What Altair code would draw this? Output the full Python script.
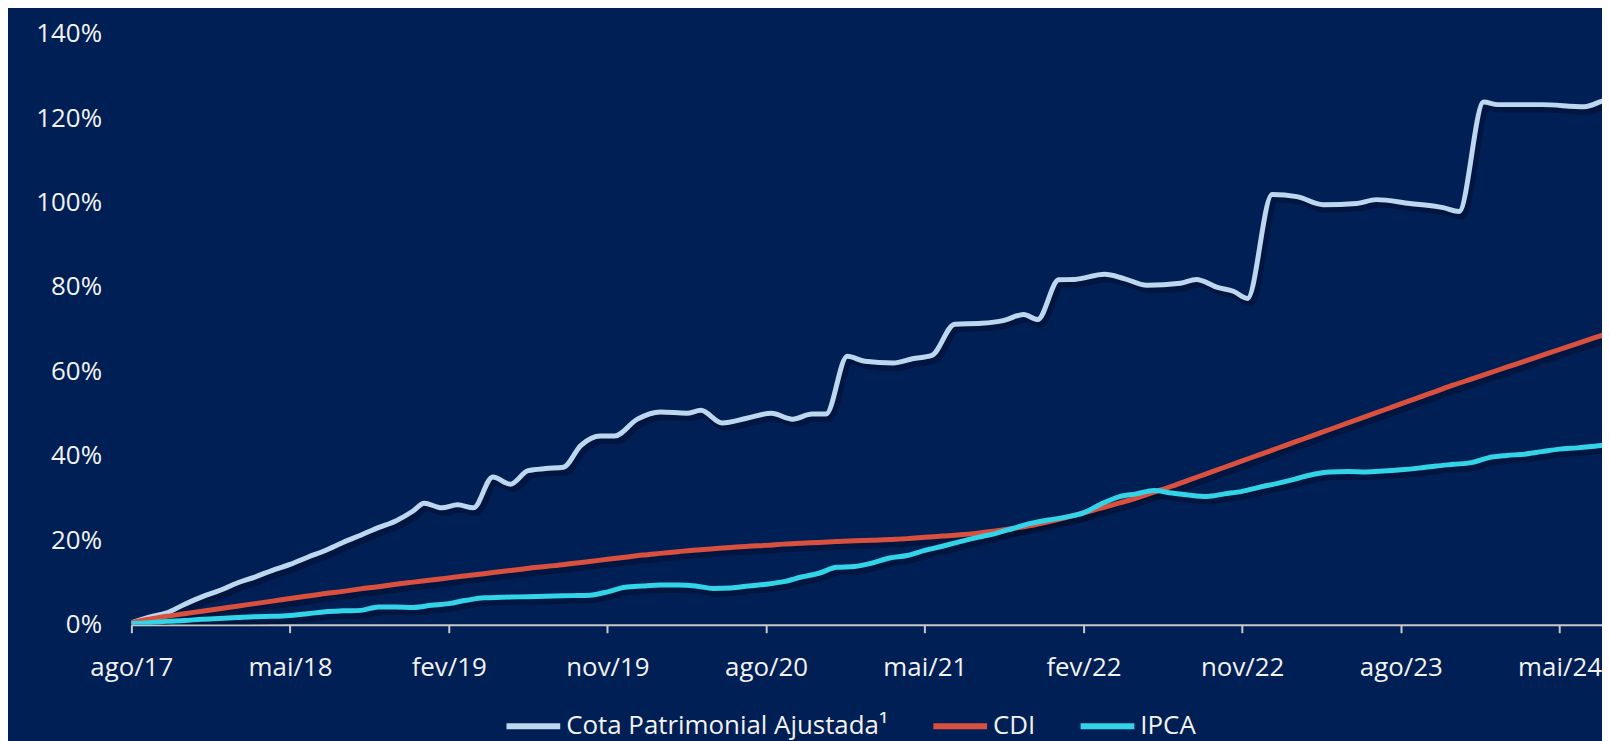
import altair as alt
import pandas as pd

# month index 0 = ago/17
tick_values = [0, 9, 18, 27, 36, 45, 54, 63, 72, 81]
tick_labels = ["ago/17", "mai/18", "fev/19", "nov/19", "ago/20", "mai/21",
               "fev/22", "nov/22", "ago/23", "mai/24"]

series_names = ["Cota Patrimonial Ajustada¹", "CDI", "IPCA"]
series_colors = ["#BDD7EE", "#D9503F", "#33D4E8"]

# Cota: read at irregular dates (month index, fractional = mid-month)
cota_months = [0, 1, 2, 3, 4, 5, 6, 7, 8, 9,
               10, 11, 12, 13, 14, 15, 16, 16.6, 17.6, 18.5,
               19.4, 20.5, 21.5, 22.5, 23.5, 24.5, 25.5, 26.6, 27.4, 28.7,
               30, 31.5, 32.3, 33.5, 34.9, 36.3, 37.5, 38.6, 39.4, 40.6,
               41.6, 43.2, 44.3, 45.4, 46.7, 48.2, 49.5, 50.6, 51.4, 52.6,
               53.5, 55.2, 56.3, 57.6, 59.5, 60.4, 61.6, 62.5, 63.3, 64.7,
               66.1, 67.6, 69.5, 70.6, 72.5, 74.4, 75.3, 76.7, 77.5, 80,
               82.4, 83.6, 85]
cota_values = [0.5, 1.8, 2.8, 4.8, 6.6, 8.1, 9.9, 11.3, 12.9, 14.3,
               16.0, 17.6, 19.5, 21.2, 23.0, 24.6, 27.0, 28.8, 27.7, 28.4,
               27.7, 35.0, 33.3, 36.5, 37.0, 37.3, 42.5, 44.7, 44.7, 48.7,
               50.4, 50.1, 50.8, 47.8, 48.9, 50.1, 48.7, 49.9, 49.9, 63.6,
               62.4, 62.0, 63.0, 63.8, 71.2, 71.4, 72.1, 73.5, 72.3, 81.7,
               81.8, 83.0, 82.0, 80.4, 80.9, 81.8, 79.9, 79.0, 77.3, 101.9,
               101.4, 99.5, 99.8, 100.7, 99.8, 98.8, 97.9, 123.8, 123.2, 123.2,
               122.7, 124.3, 125.0]

cdi = [0.5, 1.3, 2.0, 2.6, 3.2, 3.8, 4.4, 5.0, 5.6, 6.2,
       6.8, 7.4, 7.9, 8.5, 9.0, 9.6, 10.1, 10.6, 11.1, 11.6,
       12.1, 12.6, 13.1, 13.6, 14.0, 14.5, 15.0, 15.5, 16.0, 16.5,
       16.9, 17.3, 17.7, 18.0, 18.3, 18.6, 18.8, 19.1, 19.3, 19.5,
       19.7, 19.9, 20.0, 20.2, 20.4, 20.7, 21.0, 21.3, 21.7, 22.2,
       22.8, 23.5, 24.4, 25.4, 26.5, 27.6, 28.8, 30.0, 31.4, 32.8,
       34.3, 35.8, 37.3, 38.8, 40.3, 41.8, 43.3, 44.8, 46.3, 47.8,
       49.3, 50.8, 52.3, 53.8, 55.3, 56.8, 58.2, 59.6, 61.0, 62.4,
       63.8, 65.2, 66.6, 68.0, 69.4]

ipca = [0.3, 0.5, 0.8, 1.0, 1.3, 1.5, 1.7, 1.9, 2.0, 2.2,
        2.6, 3.1, 3.3, 3.4, 4.2, 4.2, 4.1, 4.6, 5.0, 5.8,
        6.4, 6.5, 6.6, 6.7, 6.8, 6.9, 7.0, 7.8, 8.9, 9.2,
        9.4, 9.4, 9.2, 8.6, 8.7, 9.2, 9.6, 10.2, 11.3, 12.2,
        13.6, 13.8, 14.6, 15.8, 16.4, 17.6, 18.6, 19.7, 20.7, 21.6,
        22.8, 24.0, 24.8, 25.5, 26.5, 28.6, 30.3, 31.0, 31.8, 31.2,
        30.7, 30.4, 31.0, 31.6, 32.6, 33.5, 34.5, 35.6, 36.2, 36.3,
        36.2, 36.4, 36.7, 37.1, 37.6, 38.0, 38.4, 39.6, 40.1, 40.4,
        41.0, 41.6, 41.9, 42.3, 42.6]

rows = []
for m, v in zip(cota_months, cota_values):
    rows.append({"m": m, "v": v, "s": series_names[0]})
for name, vals in zip(series_names[1:], [cdi, ipca]):
    for i, v in enumerate(vals):
        rows.append({"m": i, "v": v, "s": name})
df = pd.DataFrame(rows)

PX_PER_MONTH = 17.72
W = 1478
H = 594
FONT = "Open Sans"
CURVE = "monotone"

x_enc = alt.X("m:Q",
              scale=alt.Scale(domain=[0, W / PX_PER_MONTH], nice=False, zero=False),
              axis=alt.Axis(values=tick_values,
                            labelExpr="%s[indexof(%s, datum.value)]" % (tick_labels, tick_values),
                            title=None, grid=False, domainColor="#C8C8C8", domainWidth=2,
                            tickColor="#C8C8C8", tickWidth=2, tickSize=8,
                            labelPadding=22, labelFontSize=26, labelColor="#F2F2F2",
                            labelFont=FONT, labelFlush=False, labelOverlap=False))
y_enc = alt.Y("v:Q",
              scale=alt.Scale(domain=[0, 140], nice=False),
              axis=alt.Axis(values=list(range(0, 141, 20)), labelExpr="datum.value + '%'",
                            title=None, grid=False, domain=False, ticks=False,
                            labelPadding=30, labelFontSize=26, labelColor="#F2F2F2",
                            labelFont=FONT))

shadow = alt.Chart(df).mark_line(
    interpolate=CURVE, strokeWidth=8, color="#000A24", opacity=0.4,
    xOffset=3, yOffset=4, clip=True, strokeCap="round"
).encode(x=x_enc, y=y_enc, detail="s:N", order="m:Q")

lines = alt.Chart(df).mark_line(
    interpolate=CURVE, strokeWidth=5, clip=True, strokeCap="round"
).encode(
    x=x_enc, y=y_enc, order="m:Q",
    color=alt.Color("s:N",
                    scale=alt.Scale(domain=series_names, range=series_colors),
                    legend=alt.Legend(orient="none", direction="horizontal",
                                      legendX=374, legendY=666, title=None,
                                      symbolType="stroke", symbolSize=2916,
                                      symbolStrokeWidth=6, labelFontSize=26,
                                      labelColor="#F2F2F2", labelFont=FONT,
                                      labelOffset=3, columnPadding=33,
                                      labelLimit=600, symbolOpacity=1)),
)

chart = alt.layer(shadow, lines).properties(
    width=W, height=H,
    autosize=alt.AutoSizeParams(type="none"),
    padding={"left": 124, "top": 24, "right": 0, "bottom": 115},
    background="#001F54",
).configure_view(stroke=None)

chart.save("out.html", embed_options={"renderer": "svg", "actions": False})
